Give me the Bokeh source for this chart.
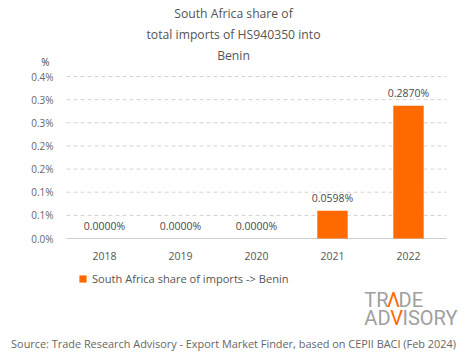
from bokeh.plotting import figure
from bokeh.models import Label, Legend, LegendItem, ColumnDataSource, Range1d
from bokeh.core.properties import value
from bokeh.embed import file_html
from bokeh.resources import INLINE

years = ["2018", "2019", "2020", "2021", "2022"]
shares = [0.0, 0.0, 0.0, 0.0598, 0.2870]
value_labels = ["0.0000%", "0.0000%", "0.0000%", "0.0598%", "0.2870%"]
y_ticks = [0.0, 0.05, 0.10, 0.15, 0.20, 0.25, 0.30, 0.35]
y_tick_labels = ["0.0%", "0.1%", "0.1%", "0.2%", "0.2%", "0.3%", "0.3%", "0.4%"]
title_lines = ["South Africa share of", "total imports of HS940350 into", "Benin"]
series_name = "South Africa share of imports -> Benin"
source_text = "Source: Trade Research Advisory - Export Market Finder, based on CEPII BACI (Feb 2024)"

FONT = "Open Sans"
ORANGE = "#ff6a00"
W, H = 465, 359
# plot area in canvas pixels
PL, PR, PT, PB = 66, 446, 76, 238
YMAX = y_ticks[-1]
n = len(years)
slot = (PR - PL) / n
kx = 1.0 / slot                      # data units per pixel (x)
ky = YMAX / (PB - PT)                # data units per pixel (y)

xs = list(range(n))
x_start = -0.5 - PL * kx
x_end = (n - 0.5) + (W - PR) * kx
y_start = -(H - PB) * ky
y_end = YMAX + PT * ky

p = figure(width=W, height=H, output_backend="svg", toolbar_location=None,
           x_range=Range1d(x_start, x_end), y_range=Range1d(y_start, y_end),
           x_axis_type=None, y_axis_type=None,
           min_border=0, min_border_left=0, min_border_right=0,
           min_border_top=0, min_border_bottom=0)
p.outline_line_color = None
p.xgrid.visible = False
p.ygrid.visible = False
p.background_fill_color = "white"
p.border_fill_color = "white"


def sy(y_page):
    return H - y_page


# grid lines
grid_y = y_ticks[1:]
p.segment(x0=[-0.5] * len(grid_y), x1=[n - 0.5] * len(grid_y), y0=grid_y, y1=grid_y,
          line_color="#d3d3d3", line_width=1, line_dash="4 3")
# baseline
p.segment(x0=[-0.5], x1=[n - 0.5], y0=[y_ticks[0]], y1=[y_ticks[0]],
          line_color="#cccccc", line_width=1)

# y tick labels
p.text(x=[-0.5] * len(y_ticks), y=y_ticks, text=y_tick_labels,
       text_align="right", text_baseline="middle", x_offset=-13,
       text_font=value(FONT), text_font_size="10px", text_color="#666666")
# x tick labels
p.text(x=xs, y=[0.0] * n, text=years, text_align="center", text_baseline="middle",
       y_offset=17, text_font=value(FONT), text_font_size="10.5px", text_color="#555555")

src = ColumnDataSource(dict(x=xs, share=shares, label=value_labels))
bars = p.vbar(x="x", top="share", width=0.4, source=src,
              fill_color=ORANGE, line_color=None)
p.text(x="x", y="share", text="label", source=src,
       text_align="center", text_baseline="bottom", y_offset=-6,
       text_font=value(FONT), text_font_size="10.5px", text_color="#4a4a4a")

# Title
for line, yp in zip(title_lines, [13, 34, 55]):
    p.add_layout(Label(x=233, y=sy(yp), x_units="screen", y_units="screen",
                       text=line, text_align="center", text_baseline="middle",
                       text_font=FONT, text_font_size="12.2px", text_color="#555555"))

p.add_layout(Label(x=45, y=sy(61), x_units="screen", y_units="screen",
                   text="%", text_align="center", text_baseline="middle",
                   text_font=FONT, text_font_size="10px", text_color="#444444"))

legend = Legend(items=[LegendItem(label=series_name, renderers=[bars])],
                location=(78, sy(286)), orientation="horizontal",
                glyph_width=9, glyph_height=9, label_height=14, label_standoff=5,
                padding=0, margin=0, border_line_color=None,
                background_fill_alpha=0,
                label_text_font=FONT, label_text_font_size="11.1px",
                label_text_color="#555555")
p.add_layout(legend, "center")

# Logo
GRAY = "#a0a0a0"
logo_font = "Roboto"
logo_size = "20px"


def logo_piece(text, x, y, align, color):
    p.add_layout(Label(x=x, y=sy(y), x_units="screen", y_units="screen",
                       text=text, text_align=align, text_baseline="middle",
                       text_font=logo_font, text_font_size=logo_size, text_color=color))


logo_piece("TR", 388, 299, "right", GRAY)
logo_piece("\u039b", 393, 299, "center", ORANGE)
logo_piece("DE", 398, 299, "left", GRAY)
logo_piece("AD", 390, 317, "right", GRAY)
logo_piece("V", 396, 317, "center", ORANGE)
logo_piece("ISORY", 402, 317, "left", GRAY)

p.add_layout(Label(x=233, y=sy(343), x_units="screen", y_units="screen",
                   text=source_text, text_align="center", text_baseline="middle",
                   text_font=FONT, text_font_size="10.9px", text_color="#666666"))

open("out.html", "w").write(file_html(p, INLINE))
